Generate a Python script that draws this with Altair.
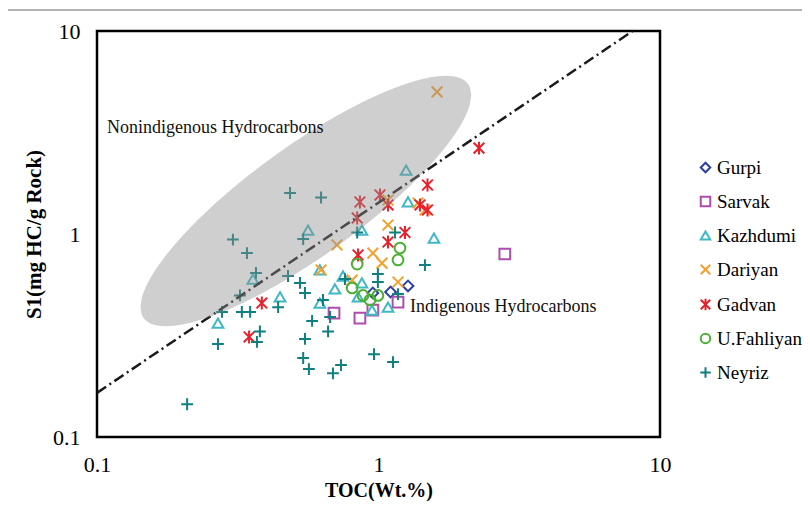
import altair as alt
import numpy as np
import pandas as pd

# ---------------- data ----------------
formations = ["Gurpi", "Sarvak", "Kazhdumi", "Dariyan", "Gadvan", "U.Fahliyan", "Neyriz"]

gurpi_toc = [0.955, 1.104, 1.273]
gurpi_s1 = [0.512, 0.518, 0.555]

sarvak_toc = [2.81, 0.695, 0.859, 0.955, 1.173]
sarvak_s1 = [0.797, 0.408, 0.385, 0.422, 0.462]

kazhdumi_toc = [1.253, 1.273, 1.574, 0.562, 0.873, 0.358, 0.447, 0.269, 0.619, 0.748,
                0.873, 0.700, 0.846, 0.619, 0.948, 1.081]
kazhdumi_s1 = [2.066, 1.438, 0.955, 1.046, 1.046, 0.600, 0.490, 0.364, 0.665, 0.621,
               0.574, 0.536, 0.490, 0.457, 0.422, 0.436]

dariyan_toc = [1.614, 1.081, 1.381, 1.462, 1.081, 0.712, 0.955, 1.029, 0.625, 1.173, 0.806]
dariyan_s1 = [5.01, 1.471, 1.422, 1.313, 1.108, 0.883, 0.805, 0.719, 0.665, 0.580, 0.593]

gadvan_toc = [2.275, 1.493, 1.012, 0.859, 0.840, 1.081, 1.404, 1.493, 1.242, 1.081,
              0.846, 0.385, 0.347]
gadvan_s1 = [2.65, 1.743, 1.556, 1.438, 1.199, 1.390, 1.390, 1.313, 1.017, 0.913,
             0.788, 0.457, 0.311]

fahliyan_toc = [1.192, 1.173, 0.840, 0.806, 0.881, 0.933, 0.995]
fahliyan_s1 = [0.853, 0.745, 0.711, 0.542, 0.498, 0.473, 0.498]

neyriz_toc = [0.485, 0.625, 0.304, 0.341, 0.540, 0.367, 0.322, 0.477, 0.526, 0.548,
              0.278, 0.327, 0.350, 0.440, 0.581, 0.379, 0.370, 0.269, 0.548, 0.540,
              0.566, 0.689, 0.736, 0.964, 1.126, 0.635, 0.673, 0.662, 0.760, 0.995,
              0.995, 1.462, 1.173, 0.840, 1.145, 0.209]
neyriz_s1 = [1.592, 1.513, 0.939, 0.805, 0.944, 0.643, 0.498, 0.621, 0.574, 0.512,
             0.413, 0.413, 0.413, 0.436, 0.373, 0.331, 0.294, 0.287, 0.304, 0.245,
             0.216, 0.206, 0.226, 0.256, 0.234, 0.473, 0.390, 0.331, 0.600, 0.635,
             0.580, 0.703, 0.506, 1.017, 1.017, 0.145]

# dash-dot boundary line end points
line_toc = [0.1, 8.0]
line_s1 = [0.165, 10.0]

# labels
label_text = ["Nonindigenous Hydrocarbons", "Indigenous Hydrocarbons"]
label_toc = [0.1085, 1.294]
label_s1 = [3.33, 0.436]

# grey ellipse (centre in data units, axes in pixels of the plot)
ell_center_toc = 0.552
ell_center_s1 = 1.454
ell_a_px = 200.0
ell_b_px = 55.0
ell_angle_deg = 35.8

# ---------------- styling ----------------
colors = ["#2e3f9e", "#b04cae", "#3fb8c4", "#f5a02a", "#e8202a", "#4cb034", "#0f7f80"]
shapes = ["diamond", "square", "triangle-up",
          "M-1,-1L1,1M-1,1L1,-1",
          "M-1,-1L1,1M-1,1L1,-1M0,-1.2L0,1.2",
          "circle",
          "M-1.1,0L1.1,0M0,-1.1L0,1.1"]

W, H = 563, 406
PX_X = W / 2.0   # px per decade
PX_Y = H / 2.0

series = [
    (gurpi_toc, gurpi_s1), (sarvak_toc, sarvak_s1), (kazhdumi_toc, kazhdumi_s1),
    (dariyan_toc, dariyan_s1), (gadvan_toc, gadvan_s1), (fahliyan_toc, fahliyan_s1),
    (neyriz_toc, neyriz_s1),
]
frames = []
for name, (t, s) in zip(formations, series):
    frames.append(pd.DataFrame({"TOC": t, "S1": s, "Formation": name}))
pts = pd.concat(frames, ignore_index=True)

# ellipse outline -> area between upper and lower branches
th = np.radians(ell_angle_deg)
c, s_ = np.cos(th), np.sin(th)
a, b = ell_a_px, ell_b_px
half_w = np.sqrt(a**2 * c**2 + b**2 * s_**2)
dx = np.linspace(-half_w, half_w, 300)
A = s_**2 / a**2 + c**2 / b**2
B = 2 * dx * c * s_ * (1 / a**2 - 1 / b**2)
C = dx**2 * (c**2 / a**2 + s_**2 / b**2) - 1
disc = np.clip(B**2 - 4 * A * C, 0, None)
dy_hi = (-B + np.sqrt(disc)) / (2 * A)
dy_lo = (-B - np.sqrt(disc)) / (2 * A)
lxc, lyc = np.log10(ell_center_toc), np.log10(ell_center_s1)
ell = pd.DataFrame({
    "TOC": 10 ** (lxc + dx / PX_X),
    "hi": 10 ** (lyc + dy_hi / PX_Y),
    "lo": 10 ** (lyc + dy_lo / PX_Y),
})

line_df = pd.DataFrame({"TOC": line_toc, "S1": line_s1})
lab_df = pd.DataFrame({"TOC": label_toc, "S1": label_s1, "text": label_text})

SERIF = "Liberation Serif"

xscale = alt.Scale(type="log", domain=[0.1, 10], nice=False)
yscale = alt.Scale(type="log", domain=[0.1, 10], nice=False)

xaxis = alt.Axis(title="TOC(Wt.%)", values=[0.1, 1, 10], format="~g", grid=False,
                 domain=False, ticks=False, tickSize=0, labelPadding=17,
                 labelFont=SERIF, labelFontSize=22, labelColor="black",
                 titleFont=SERIF, titleFontSize=20, titleFontWeight="bold",
                 titleColor="black", titlePadding=5, labelFlush=False)
yaxis = alt.Axis(title="S1(mg HC/g Rock)", values=[0.1, 1, 10], format="~g", grid=False,
                 domain=False, ticks=False, tickSize=0, labelPadding=17,
                 labelFont=SERIF, labelFontSize=22, labelColor="black",
                 titleFont=SERIF, titleFontSize=21, titleFontWeight="bold",
                 titleColor="black", titlePadding=8, labelFlush=False)

leg = alt.Legend(title=None, orient="none", legendX=599, legendY=127,
                 labelFont=SERIF, labelFontSize=19, labelColor="black",
                 symbolSize=90, symbolStrokeWidth=2, rowPadding=14,
                 labelOffset=2)

points = alt.Chart(pts).mark_point(filled=False, strokeWidth=2, size=115, opacity=1).encode(
    x=alt.X("TOC:Q", scale=xscale, axis=xaxis),
    y=alt.Y("S1:Q", scale=yscale, axis=yaxis),
    color=alt.Color("Formation:N", scale=alt.Scale(domain=formations, range=colors),
                    sort=formations, legend=leg),
    shape=alt.Shape("Formation:N", scale=alt.Scale(domain=formations, range=shapes),
                    sort=formations, legend=leg),
)

line = alt.Chart(line_df).mark_line(color="#1a1a1a", strokeWidth=2.5,
                                    strokeDash=[11, 4, 2, 4], clip=True).encode(
    x=alt.X("TOC:Q", scale=xscale), y=alt.Y("S1:Q", scale=yscale))

ellipse = alt.Chart(ell).mark_area(color="#8f8f8f", opacity=0.43).encode(
    x=alt.X("TOC:Q", scale=xscale), y=alt.Y("hi:Q", scale=yscale), y2="lo:Q")

labels = alt.Chart(lab_df).mark_text(align="left", baseline="middle", font=SERIF,
                                     fontSize=18, color="#111111").encode(
    x=alt.X("TOC:Q", scale=xscale), y=alt.Y("S1:Q", scale=yscale), text="text:N")

# thin outer figure frame (top and left edges visible)
frame = alt.Chart(pd.DataFrame({"k": [0]})).mark_rect(
    fill=None, stroke="#666666", strokeWidth=1).encode(
    x=alt.value(-90), x2=alt.value(W + 300), y=alt.value(-21), y2=alt.value(H + 300))

chart = alt.layer(frame, points, line, ellipse, labels).properties(
    width=W, height=H,
    autosize="none",
    padding={"left": 89, "top": 23, "right": 142, "bottom": 64},
).configure_view(stroke="black", strokeWidth=2.5)

chart.save("out.html", embed_options={"renderer": "svg", "actions": False})
